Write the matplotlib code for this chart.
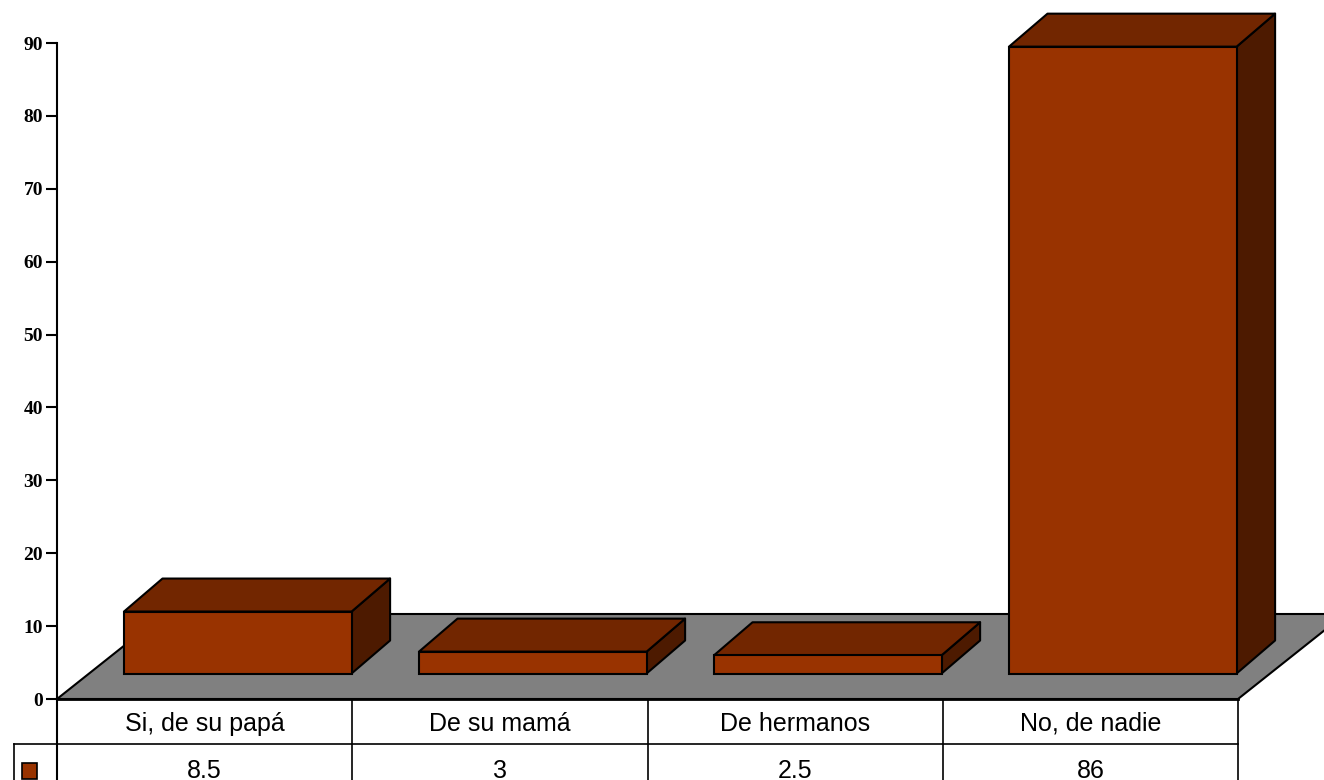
import matplotlib
matplotlib.use('Agg')
import matplotlib.pyplot as plt
from matplotlib.patches import Polygon, Rectangle

categorias = ['Si, de su papá', 'De su mamá', 'De hermanos', 'No, de nadie']
valores = [8.5, 3, 2.5, 86]
etiquetas_valor = ['8.5', '3', '2.5', '86']
yticks = [0, 10, 20, 30, 40, 50, 60, 70, 80, 90]

W, H = 1324, 780
x0, x1, y0, y1 = 57, 1238, 699, 43   # area del grafico en pixeles
px = 4 / (x1 - x0)                   # pixel -> unidad x
py = 90 / (y0 - y1)                  # pixel -> unidad y

# profundidad 3D
dx_bar, dy_bar = 38.5 * px, 33 * py
dx_floor, dy_floor = 107 * px, 85 * py
ancho = 227.6 * px
margen = 67 * px
base = 25.5 * py
lw = 1.5

c_front = '#993300'
c_top = '#722600'
c_side = '#4d1a00'
c_floor = '#808080'

fig = plt.figure(figsize=(W / 100, H / 100), dpi=100)
ax = fig.add_axes([x0 / W, 1 - y0 / H, (x1 - x0) / W, (y0 - y1) / H])
ax.set_xlim(0, 4)
ax.set_ylim(0, 90)
ax.patch.set_alpha(0)
ax.spines['top'].set_visible(False)
ax.spines['right'].set_visible(False)
ax.spines['left'].set_linewidth(lw)
ax.spines['bottom'].set_visible(False)
ax.set_xticks([])
ax.set_yticks(yticks)
ax.set_yticklabels(yticks, fontfamily='Liberation Serif', fontweight='bold', fontsize=14)
ax.tick_params(axis='y', length=8, width=lw, pad=2)

# piso gris
ax.add_patch(Polygon([(0, 0), (4, 0), (4 + dx_floor, dy_floor), (dx_floor, dy_floor)],
                     closed=True, fc=c_floor, ec='black', lw=lw, clip_on=False, zorder=1))

# barras
for i, v in enumerate(valores):
    a = i + margen - i * 0.25 * px
    b = a + ancho
    y_b = base
    y_t = base + v
    ax.add_patch(Polygon([(b, y_b), (b + dx_bar, y_b + dy_bar), (b + dx_bar, y_t + dy_bar), (b, y_t)],
                         closed=True, fc=c_side, ec='black', lw=lw, clip_on=False, zorder=3, joinstyle='round'))
    ax.add_patch(Polygon([(a, y_t), (b, y_t), (b + dx_bar, y_t + dy_bar), (a + dx_bar, y_t + dy_bar)],
                         closed=True, fc=c_top, ec='black', lw=lw, clip_on=False, zorder=3, joinstyle='round'))
    ax.add_patch(Rectangle((a, y_b), ancho, v, fc=c_front, ec='black', lw=lw, clip_on=False, zorder=4))

# tabla de datos
fila1 = -45 * py
fila2 = -90 * py
ax.plot([0, 4], [0, 0], color='black', lw=2, clip_on=False, zorder=5)
ax.plot([-43 * px, 4], [fila1, fila1], color='black', lw=1.2, clip_on=False, zorder=5)
for i in range(5):
    ax.plot([i, i], [0, fila2], color='black', lw=1.2, clip_on=False, zorder=5)
ax.plot([0, 0], [0, fila2], color='black', lw=1.5, clip_on=False, zorder=5)
ax.plot([-43 * px, -43 * px], [fila1, fila2], color='black', lw=1.2, clip_on=False, zorder=5)
for i in range(4):
    ax.text(i + 0.5, -32 * py, categorias[i], ha='center', va='baseline',
            fontfamily='Liberation Sans', fontsize=18, clip_on=False)
    ax.text(i + 0.5, -79 * py, etiquetas_valor[i], ha='center', va='baseline',
            fontfamily='Liberation Sans', fontsize=18, clip_on=False)
ax.add_patch(Rectangle((-35 * px, -80 * py), 15 * px, 16 * py, fc=c_front, ec='black',
                       lw=1.2, clip_on=False, zorder=5))

fig.savefig('out.png', dpi=100)
